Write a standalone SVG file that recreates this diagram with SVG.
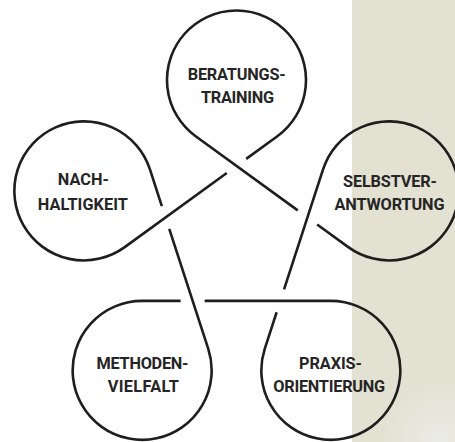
<svg xmlns="http://www.w3.org/2000/svg" width="455" height="442" viewBox="0 0 455 442">
  <defs>
    <radialGradient id="glow" cx="440" cy="440" r="60" gradientUnits="userSpaceOnUse">
      <stop offset="0" stop-color="#eceee8" stop-opacity="0.8"/>
      <stop offset="1" stop-color="#eceee8" stop-opacity="0"/>
    </radialGradient>
  </defs>
  <style>
    .knot { fill: none; stroke: #1f1d1d; stroke-width: 2.6; stroke-linecap: butt; stroke-linejoin: round; }
    .label { font-family: Roboto, "Open Sans", "Liberation Sans", sans-serif; font-weight: 700; font-size: 16.3px; fill: #262525; text-anchor: middle; }
  </style>
  <g id="background">
    <rect x="0" y="0" width="455" height="442" fill="#ffffff"/>
    <rect x="352" y="0" width="103" height="442" fill="#e3e1d2"/>
    <rect x="352" y="380" width="103" height="62" fill="url(#glow)"/>
  </g>
  <g id="connectors">
    <path class="knot" d="M246.21,158.85 L277.35,136.23 A69.5,69.5 0 1 0 195.65,136.23 L297.74,210.40"/>
    <path class="knot" d="M317.15,224.50 L348.29,247.13 A69.5,69.5 0 1 0 323.05,169.43 L284.05,289.44"/>
    <path class="knot" d="M276.64,312.26 L264.74,348.87 A69.5,69.5 0 1 0 330.84,300.85 L204.65,300.85"/>
    <path class="knot" d="M180.65,300.85 L142.16,300.85 A69.5,69.5 0 1 0 208.26,348.87 L169.26,228.86"/>
    <path class="knot" d="M161.85,206.04 L149.95,169.43 A69.5,69.5 0 1 0 124.71,247.13 L226.79,172.96"/>
  </g>
  <g id="node-beratungstraining">
    <text class="label" x="236.7" y="79.5" textLength="98" lengthAdjust="spacing">BERATUNGS-</text>
    <text class="label" x="237.5" y="103" textLength="73" lengthAdjust="spacing">TRAINING</text>
  </g>
  <g id="node-selbstverantwortung">
    <text class="label" x="390" y="186.5" textLength="94" lengthAdjust="spacing">SELBSTVER-</text>
    <text class="label" x="389.5" y="210.2" textLength="110" lengthAdjust="spacing">ANTWORTUNG</text>
  </g>
  <g id="node-praxisorientierung">
    <text class="label" x="330.5" y="368.5" textLength="63" lengthAdjust="spacing">PRAXIS-</text>
    <text class="label" x="329.2" y="392" textLength="112" lengthAdjust="spacing">ORIENTIERUNG</text>
  </g>
  <g id="node-methodenvielfalt">
    <text class="label" x="142.5" y="368.5" textLength="92" lengthAdjust="spacing">METHODEN-</text>
    <text class="label" x="143.3" y="392" textLength="71" lengthAdjust="spacing">VIELFALT</text>
  </g>
  <g id="node-nachhaltigkeit">
    <text class="label" x="83.3" y="185.3" textLength="51" lengthAdjust="spacing">NACH-</text>
    <text class="label" x="82.8" y="209.5" textLength="90" lengthAdjust="spacing">HALTIGKEIT</text>
  </g>
</svg>
